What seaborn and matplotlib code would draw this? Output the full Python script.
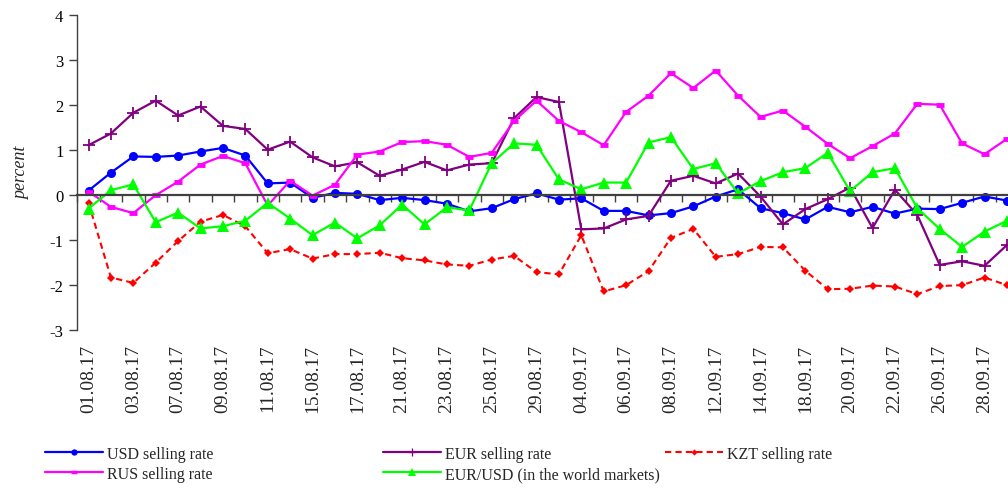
import matplotlib
matplotlib.use("Agg")
import matplotlib.pyplot as plt
import seaborn as sns
import pandas as pd
import numpy as np
from matplotlib.lines import Line2D

dates = ["01.08.17", "02.08.17", "03.08.17", "04.08.17", "07.08.17", "08.08.17", "09.08.17",
         "10.08.17", "11.08.17", "14.08.17", "15.08.17", "16.08.17", "17.08.17", "18.08.17",
         "21.08.17", "22.08.17", "23.08.17", "24.08.17", "25.08.17", "28.08.17", "29.08.17",
         "31.08.17", "04.09.17", "05.09.17", "06.09.17", "07.09.17", "08.09.17", "11.09.17",
         "12.09.17", "13.09.17", "14.09.17", "15.09.17", "18.09.17", "19.09.17", "20.09.17",
         "21.09.17", "22.09.17", "25.09.17", "26.09.17", "27.09.17", "28.09.17", "29.09.17"]

usd = [0.09, 0.49, 0.85, 0.84, 0.87, 0.96, 1.04, 0.87, 0.25, 0.27, -0.07, 0.04, 0.02, -0.12,
       -0.07, -0.12, -0.20, -0.37, -0.30, -0.10, 0.03, -0.11, -0.08, -0.36, -0.36, -0.46,
       -0.41, -0.26, -0.04, 0.12, -0.30, -0.41, -0.55, -0.27, -0.39, -0.27, -0.42, -0.31,
       -0.32, -0.18, -0.04, -0.13]

eur = [1.10, 1.36, 1.82, 2.09, 1.76, 1.96, 1.53, 1.46, 1.00, 1.18, 0.83, 0.63, 0.72, 0.42,
       0.56, 0.73, 0.54, 0.67, 0.70, 1.70, 2.17, 2.06, -0.77, -0.75, -0.55, -0.47, 0.31,
       0.42, 0.25, 0.47, -0.04, -0.66, -0.32, -0.10, 0.16, -0.74, 0.11, -0.45, -1.56,
       -1.48, -1.58, -1.12]

kzt = [-0.18, -1.84, -1.96, -1.51, -1.03, -0.60, -0.45, -0.70, -1.30, -1.21, -1.42, -1.32,
       -1.32, -1.29, -1.41, -1.46, -1.55, -1.58, -1.44, -1.36, -1.72, -1.77, -0.90, -2.15,
       -2.01, -1.70, -0.96, -0.76, -1.38, -1.32, -1.16, -1.17, -1.69, -2.10, -2.09, -2.02,
       -2.04, -2.21, -2.03, -2.01, -1.84, -2.01]

rus = [0.07, -0.27, -0.41, -0.01, 0.29, 0.67, 0.86, 0.70, -0.24, 0.31, -0.02, 0.22, 0.89,
       0.96, 1.17, 1.19, 1.11, 0.84, 0.93, 1.64, 2.09, 1.64, 1.39, 1.10, 1.84, 2.20, 2.70,
       2.37, 2.76, 2.20, 1.73, 1.87, 1.51, 1.13, 0.81, 1.08, 1.36, 2.02, 2.00, 1.14, 0.90,
       1.24]

eurusd = [-0.31, 0.10, 0.23, -0.61, -0.40, -0.75, -0.70, -0.58, -0.18, -0.53, -0.90, -0.62,
          -0.97, -0.68, -0.22, -0.66, -0.28, -0.35, 0.70, 1.14, 1.11, 0.34, 0.12, 0.27, 0.27,
          1.16, 1.28, 0.57, 0.70, 0.03, 0.30, 0.50, 0.59, 0.93, 0.08, 0.50, 0.59, -0.30,
          -0.76, -1.16, -0.82, -0.58]

labels = ["USD selling rate", "EUR selling rate", "KZT selling rate",
          "RUS selling rate", "EUR/USD (in the world markets)"]

sns.set_theme(style="white")
plt.rcParams["font.family"] = ["Liberation Serif", "DejaVu Serif"]
plt.rcParams["axes.unicode_minus"] = False

df = pd.DataFrame({"pos": np.arange(len(dates)), "date": dates,
                   "usd": usd, "eur": eur, "kzt": kzt, "rus": rus, "eurusd": eurusd})

fig = plt.figure(figsize=(10.08, 4.89), dpi=100)
ax = fig.add_axes([77.3 / 1008, 1 - 330.7 / 489, 940.8 / 1008, 315.0 / 489])

styles = {
    "usd": dict(color="#0000FF", marker="o", markersize=6.5, markeredgewidth=0, linewidth=1.6),
    "eur": dict(color="#800080", marker="+", markersize=9, markeredgewidth=1.3, linewidth=1.6),
    "kzt": dict(color="#FF0000", marker="D", markersize=4.5, markeredgewidth=0, linewidth=1.5,
                dashes=(3, 2)),
    "rus": dict(color="#FF00FF", marker="_", markersize=6, markeredgewidth=3.5, linewidth=1.6),
    "eurusd": dict(color="#00FF00", marker="^", markersize=8, markeredgewidth=0, linewidth=1.6),
}
keys = ["usd", "eur", "kzt", "rus", "eurusd"]
handles = {}
for k, lab in zip(keys, labels):
    st = dict(styles[k])
    dashes = st.pop("dashes", None)
    sns.lineplot(data=df, x="pos", y=k, ax=ax, label=lab, legend=False,
                 markeredgecolor=st["color"], **st)
    line = ax.get_lines()[-1]
    if dashes is not None:
        line.set_dashes(dashes)
    handles[k] = Line2D([], [], color=st["color"], marker=st["marker"],
                        markersize=st["markersize"] * 0.7,
                        markeredgewidth=st["markeredgewidth"] * 0.7, markeredgecolor=st["color"],
                        linewidth=st["linewidth"],
                        linestyle=(0, dashes) if dashes else "-")

ax.set_xlim(-0.5, len(dates) - 0.5)
ax.set_ylim(-3, 4)
ax.set_yticks(range(-3, 5))
ax.set_xlabel("")
ax.set_ylabel("percent", fontsize=13, style="italic", labelpad=14)

axis_col = "#404040"
for s in ["top", "right"]:
    ax.spines[s].set_visible(False)
ax.spines["left"].set_color(axis_col)
ax.spines["left"].set_linewidth(1.0)
ax.spines["bottom"].set_position(("data", 0))
ax.spines["bottom"].set_color(axis_col)
ax.spines["bottom"].set_linewidth(1.6)
ax.set_xticks(np.arange(-0.5, len(dates), 1.0))
ax.set_xticklabels([])
ax.tick_params(axis="x", direction="out", length=5, width=1, color=axis_col, bottom=True)
ax.tick_params(axis="y", direction="out", length=6, width=1, color=axis_col, left=True,
               labelsize=12, pad=4, labelcolor="#000000")

sec = ax.secondary_xaxis("bottom")
sec.set_xticks(df["pos"][::2])
sec.set_xticklabels(df["date"][::2], rotation=90, fontsize=14)
sec.tick_params(length=0, pad=10)
sec.spines["bottom"].set_visible(False)

leg_kw = dict(loc="upper left", frameon=False, borderpad=0, borderaxespad=0,
              handlelength=3.6, handletextpad=0.3, labelspacing=0.25, fontsize=11.5)
y_top = 1 - 447 / 489
fig.legend([handles["usd"], handles["rus"]], [labels[0], labels[3]],
           bbox_to_anchor=(45 / 1008, y_top), **leg_kw)
fig.legend([handles["eur"], handles["eurusd"]], [labels[1], labels[4]],
           bbox_to_anchor=(383 / 1008, y_top), **leg_kw)
fig.legend([handles["kzt"]], [labels[2]],
           bbox_to_anchor=(665 / 1008, y_top), **leg_kw)

fig.savefig("out.png", dpi=100)
